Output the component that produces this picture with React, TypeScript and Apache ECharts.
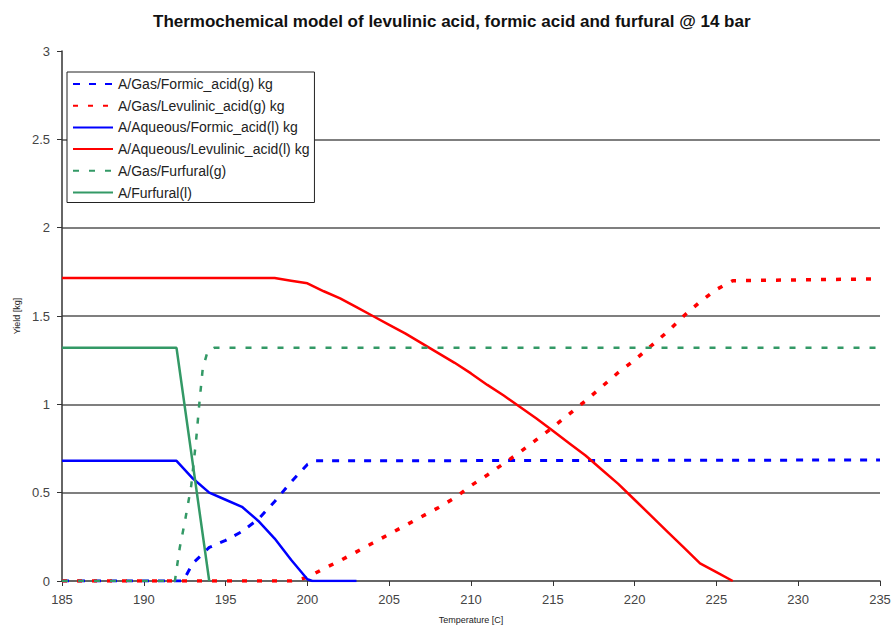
import React, { useEffect, useRef } from "react";
import * as echarts from "echarts";

const titleText = "Thermochemical model of levulinic acid, formic acid and furfural @ 14 bar";
const xTicks = [185, 190, 195, 200, 205, 210, 215, 220, 225, 230, 235];
const yTicks = [0, 0.5, 1, 1.5, 2, 2.5, 3];

const seriesNames = [
  "A/Gas/Formic_acid(g) kg",
  "A/Gas/Levulinic_acid(g) kg",
  "A/Aqueous/Formic_acid(l) kg",
  "A/Aqueous/Levulinic_acid(l) kg",
  "A/Gas/Furfural(g)",
  "A/Furfural(l)",
];

// Gas formic acid
const gasFormicT = [185, 192.4, 193, 194, 195, 196, 197, 198, 199, 200, 200.5, 235];
const gasFormicY = [0, 0, 0.1, 0.19, 0.23, 0.28, 0.35, 0.45, 0.56, 0.66, 0.68, 0.685];

// Gas levulinic acid
const gasLevT = [185, 199, 200, 201, 202, 203, 204, 205, 206, 207, 208, 209, 210, 211, 212, 213, 214, 215, 216, 217, 218, 219, 220, 221, 222, 223, 224, 225, 226, 235];
const gasLevY = [0, 0, 0.02, 0.07, 0.115, 0.165, 0.215, 0.265, 0.315, 0.365, 0.415, 0.47, 0.54, 0.6, 0.665, 0.73, 0.8, 0.87, 0.945, 1.02, 1.1, 1.18, 1.25, 1.33, 1.41, 1.5, 1.58, 1.65, 1.7, 1.71];

// Aqueous formic acid
const aqFormicT = [185, 192, 193, 194, 195, 196, 197, 198, 199, 200, 200.3, 203];
const aqFormicY = [0.68, 0.68, 0.58, 0.5, 0.46, 0.42, 0.34, 0.24, 0.12, 0.01, 0, 0];

// Aqueous levulinic acid
const aqLevT = [185, 198, 199, 200, 201, 202, 203, 204, 205, 206, 207, 208, 209, 210, 211, 212, 213, 214, 215, 216, 217, 218, 219, 220, 221, 222, 223, 224, 225, 226];
const aqLevY = [1.715, 1.715, 1.7, 1.685, 1.64, 1.6, 1.55, 1.5, 1.45, 1.4, 1.345, 1.29, 1.235, 1.175, 1.11, 1.05, 0.985, 0.92, 0.85, 0.78, 0.71, 0.63, 0.55, 0.46, 0.37, 0.28, 0.19, 0.1, 0.05, 0];

// Gas furfural
const gasFurT = [185, 191.9, 192.2, 192.5, 192.9, 193.2, 193.4, 193.6, 193.9, 194.3, 235];
const gasFurY = [0, 0, 0.19, 0.33, 0.54, 0.8, 1.01, 1.2, 1.3, 1.32, 1.32];

// Liquid furfural
const liqFurT = [185, 192, 194];
const liqFurY = [1.32, 1.32, 0];

const BLUE = "#0000ff";
const RED = "#ff0000";
const GREEN = "#339966";
const FONT = "Liberation Sans, Arial, sans-serif";

const pairs = (t: number[], y: number[]) => t.map((v, i) => [v, y[i]]);

export default function App() {
  const ref = useRef<HTMLDivElement>(null);
  useEffect(() => {
    if (!ref.current) return;
    const chart = echarts.init(ref.current, null, { renderer: "svg" });
    const mk = (name: string, data: number[][], color: string, width: number, type: any, z: number) => ({
      name,
      type: "line",
      data,
      showSymbol: false,
      symbol: "none",
      z,
      lineStyle: { color, width, type },
      itemStyle: { color },
    });
    chart.setOption({
      animation: false,
      backgroundColor: "#ffffff",
      textStyle: { fontFamily: FONT },
      title: {
        text: titleText,
        left: 148,
        top: 8,
        textStyle: { fontFamily: FONT, fontSize: 17, fontWeight: "bold", color: "#111" },
      },
      grid: { left: 62, right: 15, top: 51, bottom: 51, containLabel: false },
      legend: {
        orient: "vertical",
        left: 67,
        top: 72,
        padding: [5, 5, 3, 5],
        itemWidth: 40,
        itemHeight: 14,
        itemGap: 7.7,
        backgroundColor: "#ffffff",
        borderColor: "#222",
        borderWidth: 1,
        itemStyle: { opacity: 0 },
        textStyle: { fontFamily: FONT, fontSize: 14, color: "#222" },
        data: seriesNames,
      },
      xAxis: {
        type: "value",
        min: 185,
        max: 235,
        interval: 5,
        name: "Temperature [C]",
        nameLocation: "middle",
        nameGap: 34,
        nameTextStyle: { fontFamily: FONT, fontSize: 9, color: "#222" },
        axisLine: { onZero: false, lineStyle: { color: "#333", width: 1.5 } },
        axisTick: { show: true, length: 5, lineStyle: { color: "#333" } },
        axisLabel: { fontFamily: FONT, fontSize: 13, color: "#444", margin: 12 },
        splitLine: { show: false },
      },
      yAxis: {
        type: "value",
        min: 0,
        max: 3,
        interval: 0.5,
        name: "Yield [kg]",
        nameLocation: "middle",
        nameGap: 40,
        nameTextStyle: { fontFamily: FONT, fontSize: 9, color: "#222" },
        axisLine: { show: true, lineStyle: { color: "#333", width: 1.5 } },
        axisTick: { show: true, length: 5, lineStyle: { color: "#333" } },
        axisLabel: { fontFamily: FONT, fontSize: 13, color: "#444", margin: 12 },
        splitLine: { show: true, showMaxLine: false, showMinLine: false, lineStyle: { color: "#555", width: 1.5 } },
      },
      series: [
        mk(seriesNames[0], pairs(gasFormicT, gasFormicY), BLUE, 3, [7, 9], 3),
        mk(seriesNames[1], pairs(gasLevT, gasLevY), RED, 3.5, [5, 10], 3),
        mk(seriesNames[2], pairs(aqFormicT, aqFormicY), BLUE, 2.5, "solid", 4),
        mk(seriesNames[3], pairs(aqLevT, aqLevY), RED, 2.5, "solid", 4),
        mk(seriesNames[4], pairs(gasFurT, gasFurY), GREEN, 2.5, [6, 10], 5),
        mk(seriesNames[5], pairs(liqFurT, liqFurY), GREEN, 2.5, "solid", 5),
      ],
    });
    return () => chart.dispose();
  }, []);
  return (
    <div
      ref={ref}
      style={{ position: "fixed", left: 0, top: 0, width: 895, height: 632, background: "#fff" }}
    />
  );
}
